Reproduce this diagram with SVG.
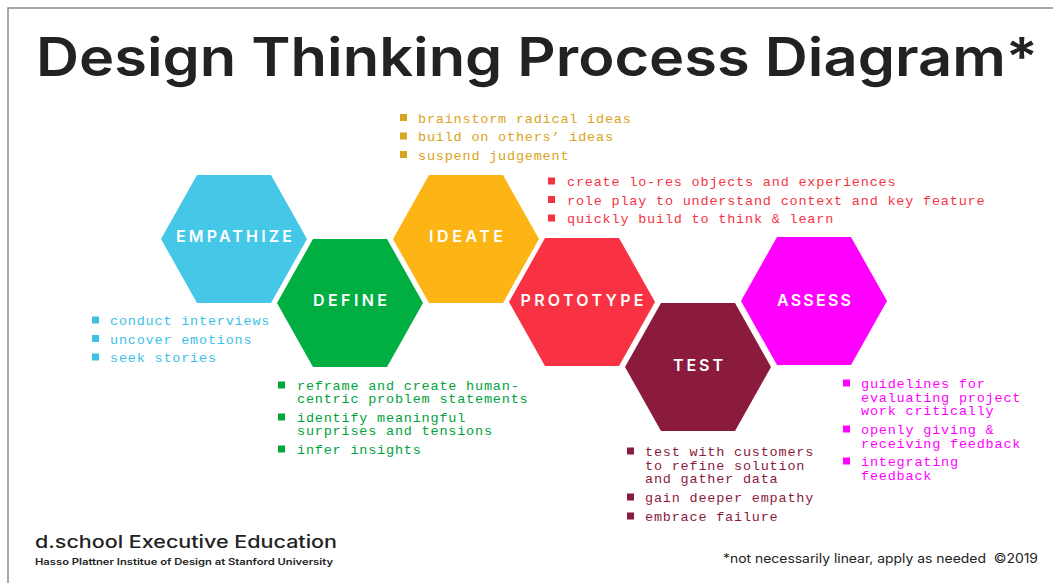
<svg xmlns="http://www.w3.org/2000/svg" xmlns:xlink="http://www.w3.org/1999/xlink" width="1053" height="583" viewBox="0 0 1053 583">
<defs>
<polygon id="hex" points="-73,0 -37,-64 37,-64 73,0 37,64 -37,64"/>
<rect id="b" x="0" y="-8.5" width="7" height="7"/>
</defs>
<style>
.lbl{font-family:Inter,"Liberation Sans",Arial,sans-serif;font-weight:600;font-size:16px;fill:#fff;text-anchor:middle}
.lst{font-family:"Liberation Mono","DejaVu Sans Mono",monospace;font-size:13.5px;letter-spacing:0.8px}
.sans{font-family:Inter,"Liberation Sans",Arial,sans-serif;fill:#222}
</style>
<rect x="0" y="0" width="1053" height="583" fill="#fff"/>
<rect x="8" y="8" width="1200" height="700" fill="none" stroke="#8a8a8a" stroke-width="1.5"/>
<text class="sans" x="36" y="76" font-size="53" font-weight="600" textLength="1002" lengthAdjust="spacingAndGlyphs">Design Thinking Process Diagram*</text>

<g id="connectors"/>

<g id="empathize">
<use xlink:href="#hex" transform="translate(234,239)" fill="#45C8E8"/>
<text class="lbl" x="234" y="242" textLength="116" lengthAdjust="spacing">EMPATHIZE</text>
</g>
<g id="define">
<use xlink:href="#hex" transform="translate(350,303)" fill="#00AE42"/>
<text class="lbl" x="350" y="306" textLength="74" lengthAdjust="spacing">DEFINE</text>
</g>
<g id="ideate">
<use xlink:href="#hex" transform="translate(466,239)" fill="#FDB515"/>
<text class="lbl" x="466" y="242" textLength="74" lengthAdjust="spacing">IDEATE</text>
</g>
<g id="prototype">
<use xlink:href="#hex" transform="translate(582,302)" fill="#F93243"/>
<text class="lbl" x="582" y="306" textLength="123" lengthAdjust="spacing">PROTOTYPE</text>
</g>
<g id="test">
<use xlink:href="#hex" transform="translate(698,367)" fill="#8A1B3D"/>
<text class="lbl" x="698" y="371" textLength="50" lengthAdjust="spacing">TEST</text>
</g>
<g id="assess">
<use xlink:href="#hex" transform="translate(814,301)" fill="#FF00FF"/>
<text class="lbl" x="814" y="306" textLength="74" lengthAdjust="spacing">ASSESS</text>
</g>

<g id="list-ideate" fill="#D9A420">
<use xlink:href="#b" x="400" y="122.5"/><use xlink:href="#b" x="400" y="141"/><use xlink:href="#b" x="400" y="159.5"/>
<text class="lst" x="418" y="122.5">brainstorm radical ideas</text>
<text class="lst" x="418" y="141">build on others’ ideas</text>
<text class="lst" x="418" y="159.5">suspend judgement</text>
</g>
<g id="list-prototype" fill="#F5333F">
<use xlink:href="#b" x="548" y="186"/><use xlink:href="#b" x="548" y="204.5"/><use xlink:href="#b" x="548" y="223"/>
<text class="lst" x="567" y="186">create lo-res objects and experiences</text>
<text class="lst" x="567" y="204.5">role play to understand context and key feature</text>
<text class="lst" x="567" y="223">quickly build to think &amp; learn</text>
</g>
<g id="list-empathize" fill="#3DC1E6">
<use xlink:href="#b" x="92" y="325"/><use xlink:href="#b" x="92" y="343.5"/><use xlink:href="#b" x="92" y="362"/>
<text class="lst" x="110" y="325">conduct interviews</text>
<text class="lst" x="110" y="343.5">uncover emotions</text>
<text class="lst" x="110" y="362">seek stories</text>
</g>
<g id="list-define" fill="#00A33C">
<use xlink:href="#b" x="278" y="390"/><use xlink:href="#b" x="278" y="422"/><use xlink:href="#b" x="278" y="454"/>
<text class="lst" x="297" y="390">reframe and create human-</text>
<text class="lst" x="297" y="403">centric problem statements</text>
<text class="lst" x="297" y="422">identify meaningful</text>
<text class="lst" x="297" y="435">surprises and tensions</text>
<text class="lst" x="297" y="454">infer insights</text>
</g>
<g id="list-test" fill="#8A1B3D">
<use xlink:href="#b" x="627" y="456"/><use xlink:href="#b" x="627" y="502"/><use xlink:href="#b" x="627" y="521"/>
<text class="lst" x="645" y="456">test with customers</text>
<text class="lst" x="645" y="469.5">to refine solution</text>
<text class="lst" x="645" y="483">and gather data</text>
<text class="lst" x="645" y="502">gain deeper empathy</text>
<text class="lst" x="645" y="521">embrace failure</text>
</g>
<g id="list-assess" fill="#FF00FF">
<use xlink:href="#b" x="843" y="388"/><use xlink:href="#b" x="843" y="434"/><use xlink:href="#b" x="843" y="466"/>
<text class="lst" x="861" y="388">guidelines for</text>
<text class="lst" x="861" y="401.5">evaluating project</text>
<text class="lst" x="861" y="415">work critically</text>
<text class="lst" x="861" y="434">openly giving &amp;</text>
<text class="lst" x="861" y="447.5">receiving feedback</text>
<text class="lst" x="861" y="466">integrating</text>
<text class="lst" x="861" y="479.5">feedback</text>
</g>

<g id="footer">
<text class="sans" x="35" y="548" font-size="17" font-weight="500" textLength="302" lengthAdjust="spacingAndGlyphs">d.school Executive Education</text>
<text class="sans" x="35" y="565" font-size="9" font-weight="600" textLength="298" lengthAdjust="spacingAndGlyphs">Hasso Plattner Institue of Design at Stanford University</text>
<text class="sans" x="723" y="563" font-size="12.5" textLength="315" lengthAdjust="spacingAndGlyphs">*not necessarily linear, apply as needed&#160; ©2019</text>
</g>
</svg>
